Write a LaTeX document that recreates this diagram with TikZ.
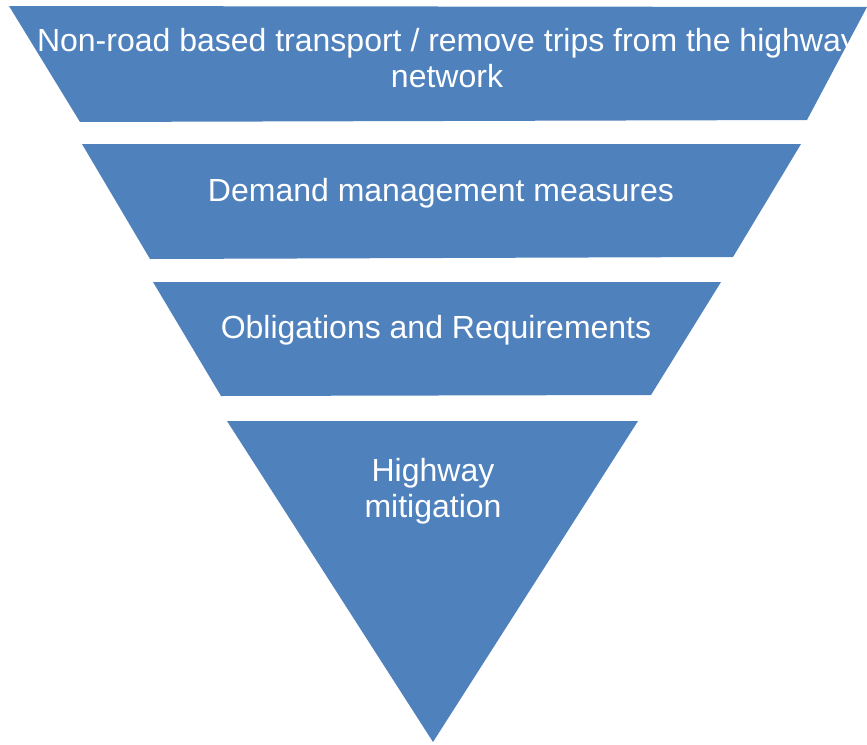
\documentclass[tikz,border=0pt]{standalone}
\usepackage{fontspec}
\setmainfont{Liberation Sans}
\usetikzlibrary{positioning}
\definecolor{cBlue}{RGB}{79,129,189}

\begin{document}
\begin{tikzpicture}[
  x=1pt, y=-1pt,
  band/.style={fill=cBlue, draw=none},
  label/.style={text=white, align=center, font=\fontsize{32}{36}\selectfont}
]

\useasboundingbox (0,0) rectangle (867,744);

%% Funnel bands, top to bottom
\fill[band] (9,6)    -- (867,7)   -- (807,120) -- (80,122)  -- cycle;
\fill[band] (82,144) -- (801,144) -- (733,257) -- (150,259) -- cycle;
\fill[band] (153,282) -- (721,282) -- (651,395) -- (221,396) -- cycle;
\fill[band] (227,421) -- (638,421) -- (433,742) -- cycle;

%% Labels
\node[label] (lvl1) at (447,58)  {Non-road based transport / remove trips from the highway\\network};
\node[label] (lvl2) at (441,193) {Demand management measures};
\node[label] (lvl3) at (436,330) {Obligations and Requirements};
\node[label] (lvl4) at (433,491) {Highway\\mitigation};

\end{tikzpicture}
\end{document}
